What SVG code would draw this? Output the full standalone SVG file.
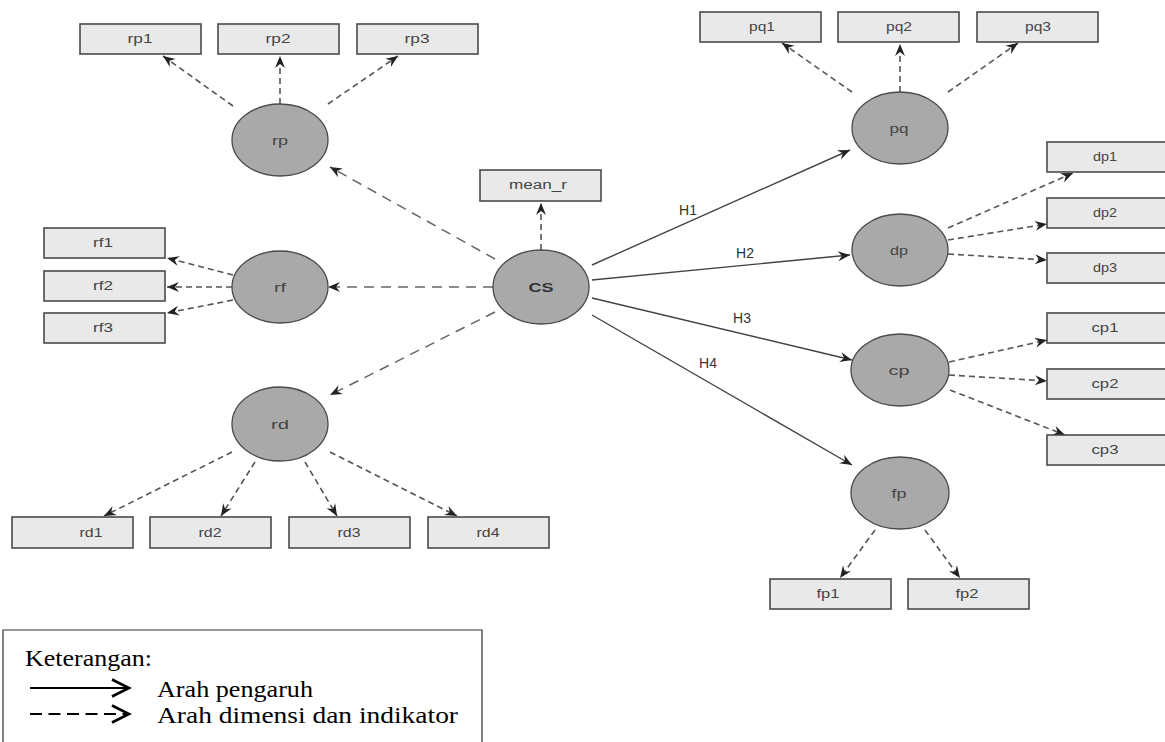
<svg xmlns="http://www.w3.org/2000/svg" width="1165" height="742" viewBox="0 0 1165 742">
<style>
.box{fill:#e9e9e9;stroke:#4a4a4a;stroke-width:1.6}
.lv{fill:#a9a9a9;stroke:#4a4a4a;stroke-width:1.3}
.t{font-family:"Liberation Sans",Arial,sans-serif;font-size:12px;fill:#444;text-anchor:middle}
.tb{font-family:"Liberation Sans",Arial,sans-serif;font-size:12px;font-weight:bold;fill:#333;text-anchor:middle}
.h{font-family:"Liberation Sans",Arial,sans-serif;font-size:14px;fill:#333;text-anchor:middle}
.ind{fill:none;stroke:#555;stroke-width:1.6;stroke-dasharray:6 4;marker-end:url(#ah)}
.dim{fill:none;stroke:#666;stroke-width:1.5;stroke-dasharray:10 7;marker-end:url(#ah)}
.hyp{fill:none;stroke:#444;stroke-width:1.4;marker-end:url(#ah)}
.leg{font-family:"Liberation Serif","Times New Roman",serif;font-size:23px;fill:#000}
</style>
<defs>
<marker id="ah" markerUnits="userSpaceOnUse" markerWidth="14" markerHeight="12" refX="12" refY="5" orient="auto" overflow="visible">
<path d="M0,0 L12,5 L0,10 L4,5 Z" fill="#222"/>
</marker>
<marker id="chev" markerUnits="userSpaceOnUse" markerWidth="24" markerHeight="20" refX="18" refY="9" orient="auto" overflow="visible">
<path d="M1,0.5 L18,9 L1,17.5" fill="none" stroke="#000" stroke-width="2.6"/>
</marker>
</defs>
<rect width="1165" height="742" fill="#fff"/>

<g id="connectors">
<line class="ind" x1="233" y1="106" x2="163" y2="56"/>
<line class="ind" x1="280" y1="104" x2="280" y2="56"/>
<line class="ind" x1="328" y1="104" x2="398" y2="56"/>
<line class="ind" x1="233" y1="275" x2="167" y2="258"/>
<line class="ind" x1="232" y1="287" x2="167" y2="287"/>
<line class="ind" x1="233" y1="300" x2="167" y2="313"/>
<line class="ind" x1="232" y1="452" x2="104" y2="516"/>
<line class="ind" x1="255" y1="462" x2="221" y2="516"/>
<line class="ind" x1="305" y1="462" x2="337" y2="516"/>
<line class="ind" x1="330" y1="452" x2="457" y2="516"/>
<line class="dim" x1="495" y1="259" x2="330" y2="167"/>
<line class="dim" x1="493" y1="287" x2="328" y2="287"/>
<line class="dim" x1="495" y1="312" x2="330" y2="395"/>
<line class="ind" x1="541" y1="250" x2="541" y2="203"/>
<line class="hyp" x1="592" y1="265" x2="850" y2="150"/>
<line class="hyp" x1="592" y1="280" x2="850" y2="255"/>
<line class="hyp" x1="592" y1="298" x2="852" y2="360"/>
<line class="hyp" x1="592" y1="315" x2="852" y2="465"/>
<line class="ind" x1="852" y1="92" x2="782" y2="43"/>
<line class="ind" x1="900" y1="92" x2="900" y2="44"/>
<line class="ind" x1="948" y1="92" x2="1018" y2="43"/>
<line class="ind" x1="948" y1="228" x2="1073" y2="173"/>
<line class="ind" x1="948" y1="240" x2="1047" y2="224"/>
<line class="ind" x1="948" y1="254" x2="1047" y2="260"/>
<line class="ind" x1="949" y1="362" x2="1047" y2="340"/>
<line class="ind" x1="949" y1="375" x2="1047" y2="381"/>
<line class="ind" x1="950" y1="390" x2="1065" y2="435"/>
<line class="ind" x1="875" y1="530" x2="840" y2="578"/>
<line class="ind" x1="925" y1="530" x2="960" y2="578"/>
<text class="h" x="688" y="215">H1</text>
<text class="h" x="745" y="258">H2</text>
<text class="h" x="742" y="323">H3</text>
<text class="h" x="708" y="368">H4</text>
</g>

<g id="rp1"><rect class="box" x="80" y="24" width="121" height="30"/><text class="t" x="140" y="43" textLength="25" lengthAdjust="spacingAndGlyphs">rp1</text></g>
<g id="rp2"><rect class="box" x="218" y="24" width="121" height="30"/><text class="t" x="278" y="43" textLength="25" lengthAdjust="spacingAndGlyphs">rp2</text></g>
<g id="rp3"><rect class="box" x="357" y="24" width="121" height="30"/><text class="t" x="417" y="43" textLength="25" lengthAdjust="spacingAndGlyphs">rp3</text></g>
<g id="rp"><ellipse class="lv" cx="280" cy="140" rx="48" ry="36"/><text class="t" x="280" y="145" textLength="16" lengthAdjust="spacingAndGlyphs">rp</text></g>

<g id="rf1"><rect class="box" x="44" y="228" width="121" height="30"/><text class="t" x="103" y="247" textLength="20" lengthAdjust="spacingAndGlyphs">rf1</text></g>
<g id="rf2"><rect class="box" x="44" y="271" width="121" height="30"/><text class="t" x="103" y="290" textLength="20" lengthAdjust="spacingAndGlyphs">rf2</text></g>
<g id="rf3"><rect class="box" x="44" y="313" width="121" height="30"/><text class="t" x="103" y="332" textLength="20" lengthAdjust="spacingAndGlyphs">rf3</text></g>
<g id="rf"><ellipse class="lv" cx="280" cy="287" rx="48" ry="36"/><text class="t" x="280" y="292" textLength="12" lengthAdjust="spacingAndGlyphs">rf</text></g>

<g id="rd"><ellipse class="lv" cx="280" cy="424" rx="48" ry="37"/><text class="t" x="280" y="429" textLength="18" lengthAdjust="spacingAndGlyphs">rd</text></g>
<g id="rd1"><rect class="box" x="12" y="517" width="121" height="31"/><text class="t" x="91" y="537" textLength="23" lengthAdjust="spacingAndGlyphs">rd1</text></g>
<g id="rd2"><rect class="box" x="150" y="517" width="121" height="31"/><text class="t" x="210" y="537" textLength="23" lengthAdjust="spacingAndGlyphs">rd2</text></g>
<g id="rd3"><rect class="box" x="289" y="517" width="121" height="31"/><text class="t" x="349" y="537" textLength="23" lengthAdjust="spacingAndGlyphs">rd3</text></g>
<g id="rd4"><rect class="box" x="428" y="517" width="121" height="31"/><text class="t" x="488" y="537" textLength="23" lengthAdjust="spacingAndGlyphs">rd4</text></g>

<g id="mean_r"><rect class="box" x="480" y="170" width="121" height="31"/><text class="t" x="538" y="189" textLength="58" lengthAdjust="spacingAndGlyphs">mean_r</text></g>
<g id="CS"><ellipse class="lv" cx="541" cy="287" rx="48" ry="37"/><text class="tb" x="541" y="292" textLength="25" lengthAdjust="spacingAndGlyphs">CS</text></g>

<g id="pq1"><rect class="box" x="700" y="12" width="121" height="30"/><text class="t" x="762" y="31" textLength="26" lengthAdjust="spacingAndGlyphs">pq1</text></g>
<g id="pq2"><rect class="box" x="838" y="12" width="121" height="30"/><text class="t" x="899" y="31" textLength="26" lengthAdjust="spacingAndGlyphs">pq2</text></g>
<g id="pq3"><rect class="box" x="977" y="12" width="121" height="30"/><text class="t" x="1038" y="31" textLength="26" lengthAdjust="spacingAndGlyphs">pq3</text></g>
<g id="pq"><ellipse class="lv" cx="900" cy="128" rx="48" ry="36"/><text class="t" x="899" y="133" textLength="19" lengthAdjust="spacingAndGlyphs">pq</text></g>

<g id="dp"><ellipse class="lv" cx="900" cy="250" rx="48" ry="36"/><text class="t" x="899" y="255" textLength="18" lengthAdjust="spacingAndGlyphs">dp</text></g>
<g id="dp1"><rect class="box" x="1047" y="142" width="121" height="30"/><text class="t" x="1105" y="161" textLength="24" lengthAdjust="spacingAndGlyphs">dp1</text></g>
<g id="dp2"><rect class="box" x="1047" y="198" width="121" height="30"/><text class="t" x="1105" y="217" textLength="24" lengthAdjust="spacingAndGlyphs">dp2</text></g>
<g id="dp3"><rect class="box" x="1047" y="253" width="121" height="30"/><text class="t" x="1105" y="272" textLength="24" lengthAdjust="spacingAndGlyphs">dp3</text></g>

<g id="cp"><ellipse class="lv" cx="900" cy="370" rx="49" ry="36"/><text class="t" x="899" y="375" textLength="21" lengthAdjust="spacingAndGlyphs">cp</text></g>
<g id="cp1"><rect class="box" x="1047" y="313" width="121" height="30"/><text class="t" x="1105" y="332" textLength="27" lengthAdjust="spacingAndGlyphs">cp1</text></g>
<g id="cp2"><rect class="box" x="1047" y="369" width="121" height="30"/><text class="t" x="1105" y="388" textLength="27" lengthAdjust="spacingAndGlyphs">cp2</text></g>
<g id="cp3"><rect class="box" x="1047" y="435" width="121" height="30"/><text class="t" x="1105" y="454" textLength="27" lengthAdjust="spacingAndGlyphs">cp3</text></g>

<g id="fp"><ellipse class="lv" cx="900" cy="493" rx="49" ry="36"/><text class="t" x="899" y="498" textLength="15" lengthAdjust="spacingAndGlyphs">fp</text></g>
<g id="fp1"><rect class="box" x="770" y="579" width="121" height="30"/><text class="t" x="828" y="598" textLength="23" lengthAdjust="spacingAndGlyphs">fp1</text></g>
<g id="fp2"><rect class="box" x="908" y="579" width="121" height="30"/><text class="t" x="967" y="598" textLength="23" lengthAdjust="spacingAndGlyphs">fp2</text></g>

<g id="legend">
<path d="M3,742 V630 H482 V742" fill="none" stroke="#333" stroke-width="1.2"/>
<text class="leg" x="25" y="666" textLength="127" lengthAdjust="spacingAndGlyphs">Keterangan:</text>
<line x1="30" y1="688" x2="129" y2="688" stroke="#000" stroke-width="2" marker-end="url(#chev)"/>
<line x1="30" y1="714" x2="129" y2="714" stroke="#000" stroke-width="2" stroke-dasharray="12 6.5" marker-end="url(#chev)"/>
<text class="leg" x="157" y="697" textLength="156" lengthAdjust="spacingAndGlyphs">Arah pengaruh</text>
<text class="leg" x="157" y="723" textLength="301" lengthAdjust="spacingAndGlyphs">Arah dimensi dan indikator</text>
</g>
</svg>
